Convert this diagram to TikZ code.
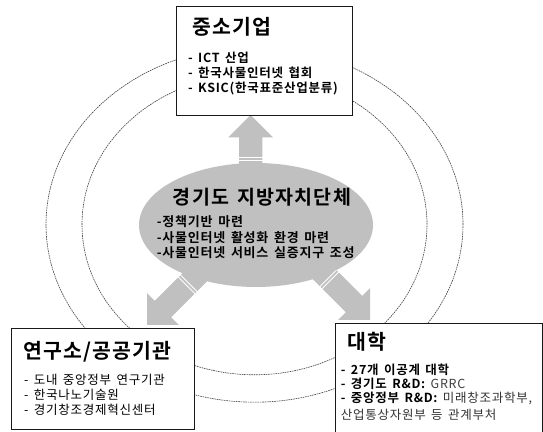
\documentclass[tikz,border=0pt]{standalone}
\usepackage{fontspec}
\setmainfont{Noto Sans CJK KR}[BoldFont={Noto Sans CJK KR Bold},WordSpace=1.5,LetterSpace=6]
\usetikzlibrary{shapes.geometric}
\definecolor{agray}{RGB}{192,192,192}
\newcommand\blockarrow[4]{% #1 tip, #2 direction, #3 length, #4 stripe distance
  \begin{scope}[shift={(#1)}, rotate=#2]
    \fill[agray] (0,0) -- (-22.5,22.5) -- (-22.5,11.6) -- (-#3,11.6) -- (-#3,-11.6)
      -- (-22.5,-11.6) -- (-22.5,-22.5) -- cycle;
    \draw[white, line width=0.9pt] (-#4,-12) -- (-#4,12);
    \draw[white, line width=0.9pt] ({-#4-3},-12) -- ({-#4-3},12);
  \end{scope}}
\begin{document}
\begin{tikzpicture}[x=1pt,y=1pt,
  orbit/.style={draw=black!75, line width=0.6pt, dash pattern=on 1.6pt off 0.8pt},
  boxframe/.style={draw=black!90, line width=0.9pt, fill=white, inner sep=0, anchor=north west},
  ttl/.style={anchor=base west, inner sep=0, font=\bfseries\fontsize{20.5}{24}\selectfont},
  itm/.style={anchor=base west, inner sep=0, font=\fontsize{12.5}{14}\selectfont},
  itmb/.style={itm, font=\bfseries\fontsize{12.5}{14}\selectfont},
  govtitle/.style={anchor=base, inner sep=0, font=\bfseries\fontsize{19.5}{22}\selectfont},
  govitem/.style={anchor=base west, inner sep=0, font=\bfseries\fontsize{13}{15}\selectfont}]
\clip (0,0) rectangle (543,431);
\fill[white] (0,0) rectangle (543,431);
% orbits
\coordinate (oc) at (254.5,206.5);
\draw[orbit] (oc) ellipse [x radius=208.5, y radius=177.7];
\draw[orbit] (oc) ellipse [x radius=172.5, y radius=150.3];
% arrow tips
\coordinate (tipUp) at (250.7,316);
\coordinate (tipL) at (147,106);
\coordinate (tipR) at (370,111);
\blockarrow{tipUp}{90}{60}{42}
\blockarrow{tipL}{225}{80}{56}
\blockarrow{tipR}{-45}{80}{56}
% central ellipse
\node[ellipse, fill=agray, inner sep=0, minimum width=234, minimum height=124] (gov) at (256,206) {};
\node[govtitle] (govT) at (262,226.8) {경기도 지방자치단체};
\node[govitem] (g1) at (156.7,204.2) {-정책기반 마련};
\node[govitem] (g2) at (156.7,188) {-사물인터넷 활성화 환경 마련};
\node[govitem] (g3) at (156.7,173.5) {-사물인터넷 서비스 실증지구 조성};
% top box
\node[boxframe, minimum width=176.5, minimum height=109] (sme) at (175.5,425) {};
\node[ttl] (smeT) at (192,396.4) {중소기업};
\node[itmb] (s1) at (188,368.9) {- ICT 산업};
\node[itmb] (s2) at (188,353.9) {- 한국사물인터넷 협회};
\node[itmb] (s3) at (188,338.9) {- KSIC(한국표준산업분류)};
% left box
\node[boxframe, minimum width=183, minimum height=101] (lab) at (11,103) {};
\node[ttl] (labT) at (23,72.4) {연구소/공공기관};
\node[itm] (l1) at (24,46.4) {- 도내 중앙정부 연구기관};
\node[itm] (l2) at (24,31.4) {- 한국나노기술원};
\node[itm] (l3) at (24,16.4) {- 경기창조경제혁신센터};
% right box
\node[boxframe, minimum width=206.5, minimum height=130] (uni) at (335,108) {};
\node[ttl] (uniT) at (347,81.4) {대학};
\node[itmb] (u1) at (340.7,56.7) {- 27개 이공계 대학};
\node[itmb] (u2) at (340.7,42.6) {- 경기도 R\&D: \mdseries\color{black!75}GRRC};
\node[itmb] (u3) at (340.7,28.1) {- 중앙정부 R\&D: \mdseries\color{black!80}미래창조과학부,};
\node[itm] (u4) at (340.7,11.4) {\color{black!80}산업통상자원부 등 관계부처};
\end{tikzpicture}
\end{document}
